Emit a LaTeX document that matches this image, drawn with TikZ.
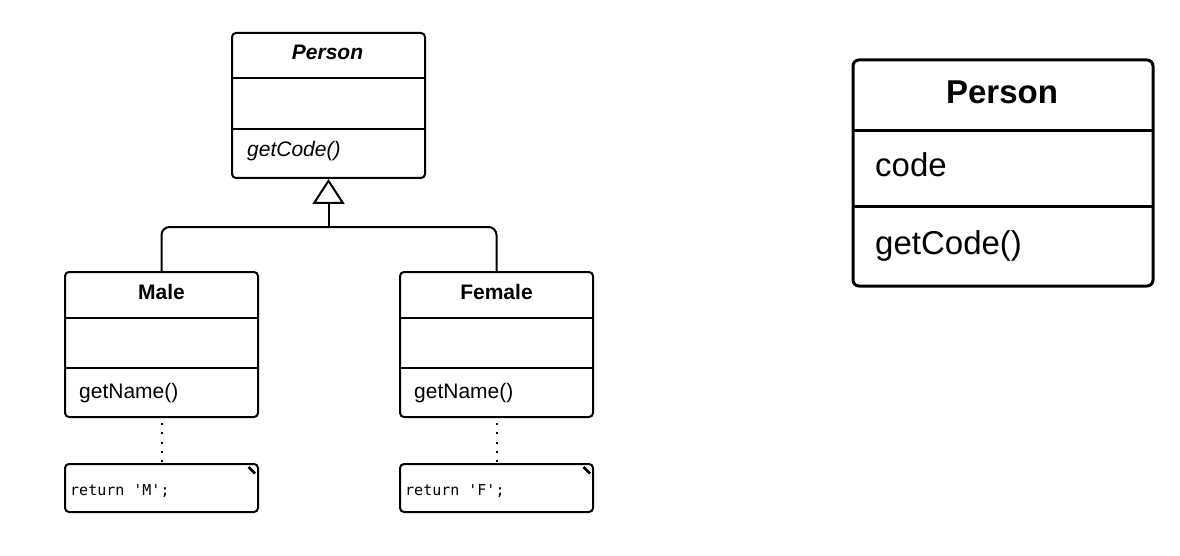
\documentclass[tikz,border=0pt]{standalone}
\usepackage{fontspec}
\setmainfont{Liberation Sans}
\newfontfamily\codefont{DejaVu Sans Mono}
\usetikzlibrary{arrows.meta}
\tikzset{
  cls/.style={draw=black, line width=2pt, rounded corners=4pt, rectangle, inner sep=0pt, minimum width=193pt, minimum height=145pt},
  bigcls/.style={draw=black, line width=3pt, rounded corners=6pt, rectangle, inner sep=0pt, minimum width=300pt, minimum height=226pt},
  notebox/.style={draw=black, line width=2pt, rounded corners=4pt, rectangle, inner sep=0pt, minimum width=193pt, minimum height=48pt},
  divider/.style={line width=2pt},
  bigdivider/.style={line width=3pt},
  smalltxt/.style={inner sep=0pt, font=\fontsize{21}{25}\selectfont},
  bigtxt/.style={inner sep=0pt, font=\fontsize{33}{40}\selectfont},
  codetxt/.style={inner sep=0pt, font=\codefont\fontsize{15}{18}\selectfont},
  gen/.style={line width=2pt, -{Triangle[open, length=25pt, width=32pt, line width=2pt]}},
  tree/.style={line width=2pt, rounded corners=8pt},
  dots/.style={line width=2pt, dash pattern=on 2pt off 7.3pt, dash phase=-5pt},
}
\begin{document}
\begin{tikzpicture}[x=1pt, y=-1pt]
\useasboundingbox (0,0) rectangle (1180,556);

% Abstract Person
\node[cls] (person) at (328.5,105.5) {};
\draw[divider] (232,78) -- (425,78);
\draw[divider] (232,129) -- (425,129);
\node[smalltxt, anchor=base, font=\fontsize{21}{25}\selectfont\bfseries\itshape] (personT) at (327.5,60) {Person};
\node[smalltxt, anchor=base west, font=\fontsize{21}{25}\selectfont\itshape] (personM) at (247,157) {getCode()};

% Male
\node[cls] (male) at (161.5,344.5) {};
\draw[divider] (65,318) -- (258,318);
\draw[divider] (65,368) -- (258,368);
\node[smalltxt, anchor=base, font=\fontsize{21}{25}\selectfont\bfseries] (maleT) at (161.5,299) {Male};
\node[smalltxt, anchor=base west] (maleM) at (79,398) {getName()};

% Female
\node[cls] (female) at (496.5,344.5) {};
\draw[divider] (400,318) -- (593,318);
\draw[divider] (400,368) -- (593,368);
\node[smalltxt, anchor=base, font=\fontsize{21}{25}\selectfont\bfseries] (femaleT) at (496.5,299) {Female};
\node[smalltxt, anchor=base west] (femaleM) at (414,398) {getName()};

% Notes
\node[notebox] (maleNote) at (161.5,488) {};
\draw[line width=2.5pt] (248.5,467) -- (255,473.5);
\node[codetxt, anchor=base west] (maleNoteT) at (70,495) {return 'M';};
\node[notebox] (femaleNote) at (496.5,488) {};
\draw[line width=2.5pt] (583.5,467) -- (590,473.5);
\node[codetxt, anchor=base west] (femaleNoteT) at (405,495) {return 'F';};

% Generalization
\coordinate (junction) at (328.5,227);
\draw[tree] (male.north) |- (junction) -| (female.north);
\draw[gen] (junction) -- (person.south);

% Dotted note links
\draw[dots] (male.south) -- (maleNote.north);
\draw[dots] (female.south) -- (femaleNote.north);

% Concrete Person
\node[bigcls] (bperson) at (1003,173) {};
\draw[bigdivider] (853,131) -- (1153,131);
\draw[bigdivider] (853,207) -- (1153,207);
\node[bigtxt, anchor=base, font=\fontsize{33}{40}\selectfont\bfseries] (bpersonT) at (1002,103.5) {Person};
\node[bigtxt, anchor=base west] (bpersonA) at (875,176.5) {code};
\node[bigtxt, anchor=base west] (bpersonM) at (875,254) {getCode()};
\end{tikzpicture}
\end{document}
